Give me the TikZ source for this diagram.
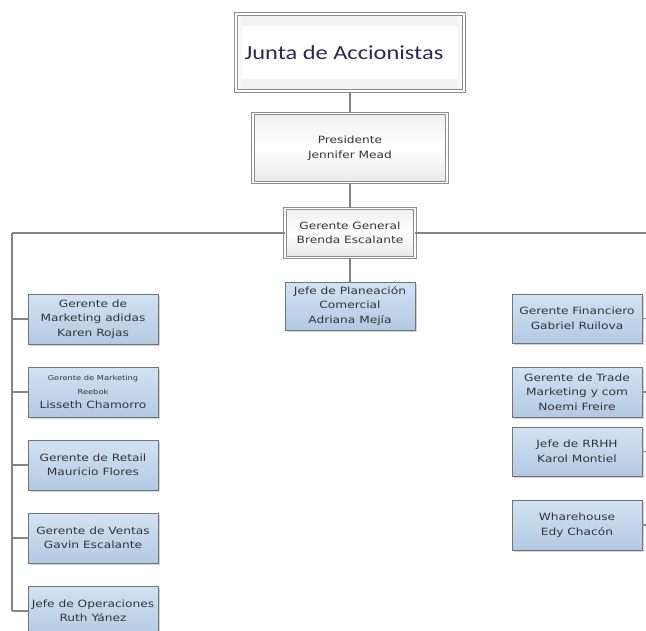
\documentclass[tikz,border=0pt]{standalone}
\usepackage{fontspec}
\setmainfont[FakeStretch=1.22]{DejaVu Sans}
\newfontfamily\juntafont[FakeStretch=1.22]{Carlito}
\usetikzlibrary{shadows}
\definecolor{conn}{HTML}{858585}
\definecolor{bluetop}{HTML}{D3E2F3}
\definecolor{bluebot}{HTML}{B3C9E3}
\definecolor{boxborder}{HTML}{6E7480}
\definecolor{txt}{HTML}{353535}
\definecolor{juntatxt}{HTML}{2C2754}
\definecolor{grayline}{HTML}{8E8E8E}
\newcommand{\smallline}{\fontsize{6.8}{9}\selectfont}
\newcommand{\normline}{\fontsize{10}{14.5}\selectfont}
\tikzset{
  conline/.style={draw=conn, line width=1.4pt},
  bluebox/.style={draw=boxborder, line width=0.9pt, top color=bluetop, bottom color=bluebot,
    minimum width=130pt, minimum height=50pt, align=center, inner sep=1pt, text=txt,
    font=\normline,
    drop shadow={opacity=0.35, shadow xshift=1.5pt, shadow yshift=-1.5pt}},
  graybox/.style={draw=grayline, double=white, double distance=1.4pt, line width=0.9pt,
    top color=gray!12, bottom color=gray!18, middle color=white,
    align=center, inner sep=1pt, text=txt, font=\normline},
  topbox/.style={draw=grayline, double=white, double distance=1.6pt, line width=1.2pt, fill=white,
    minimum width=228pt, minimum height=77pt, inner sep=0pt,
    font=\juntafont\fontsize{20}{24}\selectfont, text=juntatxt,
    path picture={
      \fill[gray!10] (path picture bounding box.north west) rectangle ([yshift=-12pt]path picture bounding box.north east);
      \fill[gray!10] (path picture bounding box.south west) rectangle ([yshift=12pt]path picture bounding box.south east);
      \fill[gray!6] (path picture bounding box.north west) rectangle ([xshift=6pt]path picture bounding box.south west);
      \fill[gray!6] (path picture bounding box.north east) rectangle ([xshift=-6pt]path picture bounding box.south east);
    }},
}
\begin{document}
\begin{tikzpicture}[x=1pt,y=-1pt]
\useasboundingbox (0,0) rectangle (646,630);
% top box
\node[topbox] (junta) at (350,52.5) {\hspace*{-12pt}Junta de Accionistas};
\node[graybox, minimum width=194pt, minimum height=69pt] (pres) at (350,148) {Presidente\\Jennifer Mead};
\node[graybox, minimum width=130pt, minimum height=49pt] (gg) at (350,233) {Gerente General\\Brenda Escalante};
\node[bluebox, minimum height=48pt] (jp) at (350,306) {Jefe de Planeación\\Comercial\\Adriana Mejía};
% left column
\node[bluebox] (l1) at (93,319) {Gerente de\\Marketing adidas\\Karen Rojas};
\node[bluebox] (l2) at (93,392) {\smallline Gerente de Marketing\\[-1pt]\smallline Reebok\\\normline Lisseth Chamorro};
\node[bluebox] (l3) at (93,465) {Gerente de Retail\\Mauricio Flores};
\node[bluebox] (l4) at (93,538) {Gerente de Ventas\\Gavin Escalante};
\node[bluebox] (l5) at (93,611) {Jefe de Operaciones\\Ruth Yánez};
% right column
\node[bluebox, minimum height=49pt] (r1) at (577,318.5) {Gerente Financiero\\Gabriel Ruilova};
\node[bluebox] (r2) at (577,392) {Gerente de Trade\\Marketing y com\\Noemi Freire};
\node[bluebox, minimum height=49pt] (r3) at (577,451.5) {Jefe de RRHH\\Karol Montiel};
\node[bluebox] (r4) at (577,525) {Wharehouse\\Edy Chacón};
% trunk coordinates
\coordinate (L) at (12,232);
\coordinate (Lend) at (12,611);
\coordinate (R) at (646,232);
% connectors
\draw[conline] (junta.south) -- (pres.north);
\draw[conline] (pres.south) -- (gg.north);
\draw[conline] (gg.south) -- (jp.north);
\draw[conline] (gg.west) -- (gg.west -| L);
\draw[conline] (gg.east) -- (gg.east -| R);
\draw[conline] (gg.west -| L) -- (Lend);
\foreach \b in {l1,l2,l3,l4,l5} {\draw[conline] (\b.west -| L) -- (\b.west);}
\foreach \b in {r1,r2,r3,r4} {\draw[conline] (\b.east) -- (\b.east -| R);}
\end{tikzpicture}
\end{document}
